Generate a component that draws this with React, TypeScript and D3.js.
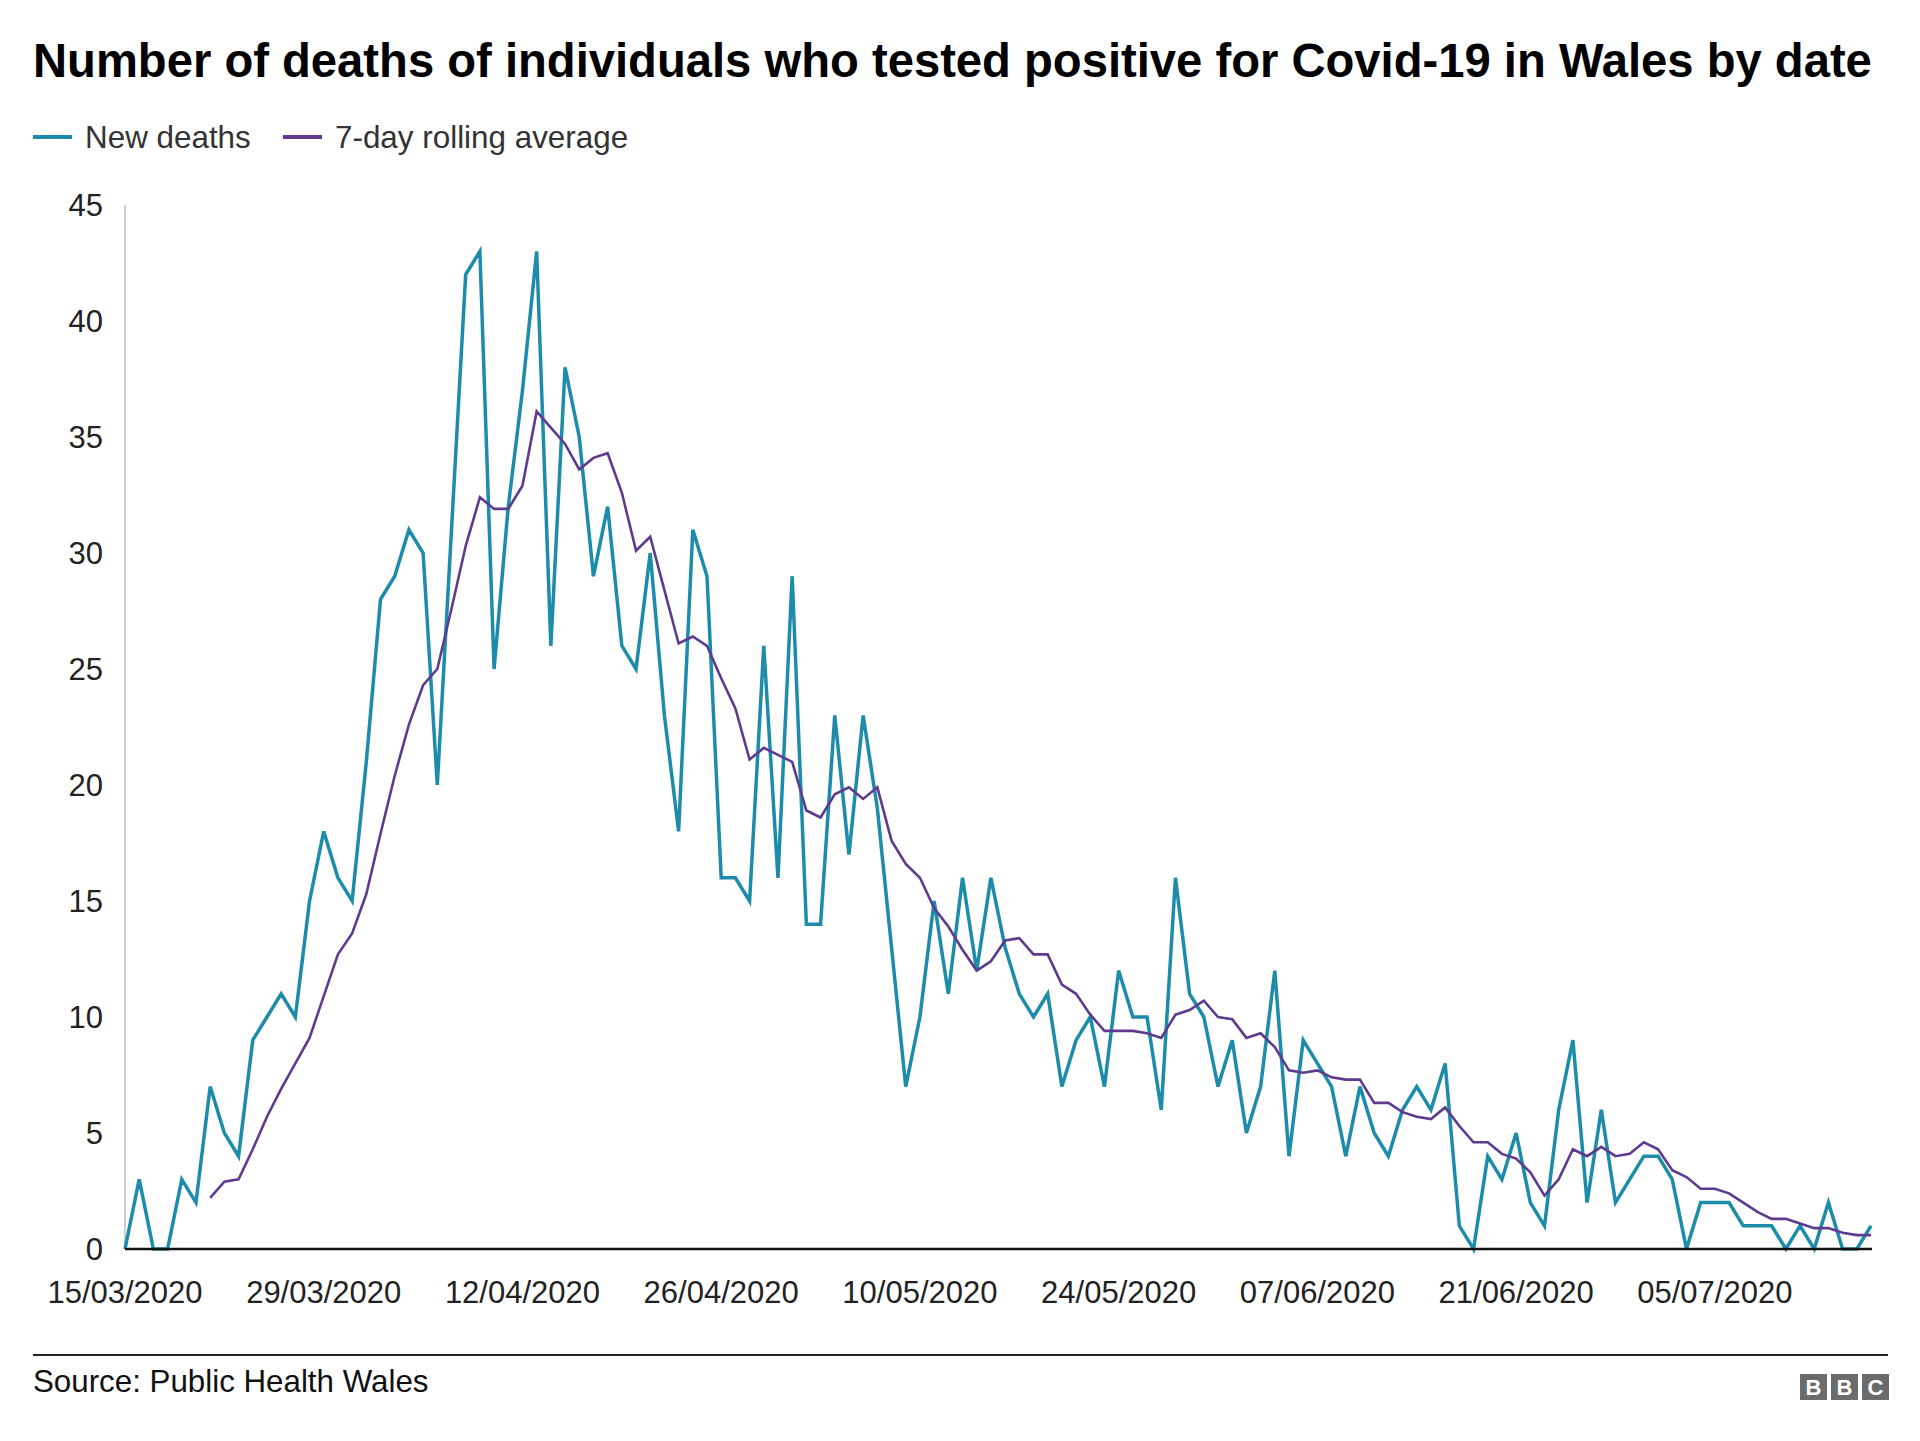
import * as d3 from 'd3';

const WIDTH = 1920;
const HEIGHT = 1441;
const MARGIN = { top: 205, right: 49, bottom: 192, left: 125 };

const FONT = '"Liberation Sans", Arial, Helvetica, sans-serif';
const TEAL = '#1d8cab';
const PURPLE = '#5e3b8f';

const TITLE = 'Number of deaths of individuals who tested positive for Covid-19 in Wales by date';
const SOURCE = 'Source: Public Health Wales';

// first day of data, one value per day after it
const startDay = '15/03/2020';

const newDeaths = [
  0, 3, 0, 0, 3, 2, 7, 5, 4, 9,
  10, 11, 10, 15, 18, 16, 15, 21, 28, 29,
  31, 30, 20, 31, 42, 43, 25, 32, 37, 43,
  26, 38, 35, 29, 32, 26, 25, 30, 23, 18,
  31, 29, 16, 16, 15, 26, 16, 29, 14, 14,
  23, 17, 23, 19, 13, 7, 10, 15, 11, 16,
  12, 16, 13, 11, 10, 11, 7, 9, 10, 7,
  12, 10, 10, 6, 16, 11, 10, 7, 9, 5,
  7, 12, 4, 9, 8, 7, 4, 7, 5, 4,
  6, 7, 6, 8, 1, 0, 4, 3, 5, 2,
  1, 6, 9, 2, 6, 2, 3, 4, 4, 3,
  0, 2, 2, 2, 1, 1, 1, 0, 1, 0,
  2, 0, 0, 1,
];

// 7-day rolling average, starts on the 7th day (21/03/2020)
const rollingStartOffset = 6;
const rollingAverage = [
  2.2, 2.9, 3.0, 4.3, 5.7, 6.9, 8.0, 9.1, 10.9, 12.7,
  13.6, 15.3, 17.9, 20.4, 22.6, 24.3, 25.0, 27.6, 30.3, 32.4,
  31.9, 31.9, 32.9, 36.1, 35.4, 34.7, 33.6, 34.1, 34.3, 32.6,
  30.1, 30.7, 28.4, 26.1, 26.4, 26.0, 24.6, 23.3, 21.1, 21.6,
  21.3, 21.0, 18.9, 18.6, 19.6, 19.9, 19.4, 19.9, 17.6, 16.6,
  16.0, 14.7, 13.9, 12.9, 12.0, 12.4, 13.3, 13.4, 12.7, 12.7,
  11.4, 11.0, 10.1, 9.4, 9.4, 9.4, 9.3, 9.1, 10.1, 10.3,
  10.7, 10.0, 9.9, 9.1, 9.3, 8.7, 7.7, 7.6, 7.7, 7.4,
  7.3, 7.3, 6.3, 6.3, 5.9, 5.7, 5.6, 6.1, 5.3, 4.6,
  4.6, 4.1, 3.9, 3.3, 2.3, 3.0, 4.3, 4.0, 4.4, 4.0,
  4.1, 4.6, 4.3, 3.4, 3.1, 2.6, 2.6, 2.4, 2.0, 1.6,
  1.3, 1.3, 1.1, 0.9, 0.9, 0.7, 0.6, 0.6,
];

const xTickLabels = [
  '15/03/2020', '29/03/2020', '12/04/2020', '26/04/2020', '10/05/2020',
  '24/05/2020', '07/06/2020', '21/06/2020', '05/07/2020',
];
const yTicks = [0, 5, 10, 15, 20, 25, 30, 35, 40, 45];

const legendItems = [
  { label: 'New deaths', color: TEAL },
  { label: '7-day rolling average', color: PURPLE },
];

type Point = { date: Date; value: number };

const parseDay = d3.utcParse('%d/%m/%Y');
const start = parseDay(startDay) as Date;
const addDays = (i: number) => d3.utcDay.offset(start, i);

const deathPoints: Point[] = newDeaths.map((v, i) => ({ date: addDays(i), value: v }));
const avgPoints: Point[] = rollingAverage.map((v, i) => ({
  date: addDays(i + rollingStartOffset),
  value: v,
}));

export default function App() {
  const x = d3
    .scaleUtc()
    .domain([start, addDays(newDeaths.length - 1)])
    .range([MARGIN.left, WIDTH - MARGIN.right]);
  const y = d3
    .scaleLinear()
    .domain([0, 45])
    .range([HEIGHT - MARGIN.bottom, MARGIN.top]);

  const line = d3
    .line<Point>()
    .x((d) => x(d.date))
    .y((d) => y(d.value));

  const y0 = y(0);

  return (
    <svg
      width={WIDTH}
      height={HEIGHT}
      style={{ position: 'absolute', left: 0, top: 0, background: '#fff' }}
      fontFamily={FONT}
    >
      <rect width={WIDTH} height={HEIGHT} fill='#fff' />

      {/* title */}
      <text x={33} y={77} fontSize={47.2} fontWeight='bold' fill='#000'>
        {TITLE}
      </text>

      {/* legend */}
      <g>
        {legendItems.map((item, i) => {
          const lx = i === 0 ? 33 : 283;
          return (
            <g key={item.label} transform={`translate(${lx},137)`}>
              <line x1={0} x2={39} y1={0} y2={0} stroke={item.color} strokeWidth={4} />
              <text x={52} y={0} dy='0.35em' fontSize={31.4} fill='#333'>
                {item.label}
              </text>
            </g>
          );
        })}
      </g>

      {/* y axis */}
      <line
        x1={MARGIN.left}
        x2={MARGIN.left}
        y1={y(45)}
        y2={y0}
        stroke='#d0d0d0'
        strokeWidth={2}
      />
      {yTicks.map((t) => (
        <text
          key={t}
          x={103}
          y={y(t)}
          dy='0.35em'
          textAnchor='end'
          fontSize={31}
          fill='#222'
        >
          {t}
        </text>
      ))}

      {/* x axis labels */}
      {xTickLabels.map((l) => (
        <text
          key={l}
          x={x(parseDay(l) as Date)}
          y={1303}
          textAnchor='middle'
          fontSize={31}
          fill='#222'
        >
          {l}
        </text>
      ))}

      {/* series */}
      <path
        d={line(deathPoints) ?? ''}
        fill='none'
        stroke={TEAL}
        strokeWidth={3.5}
      />
      <path
        d={line(avgPoints) ?? ''}
        fill='none'
        stroke={PURPLE}
        strokeWidth={2.6}
      />

      {/* baseline drawn over the lines */}
      <line
        x1={MARGIN.left}
        x2={1872}
        y1={y0}
        y2={y0}
        stroke='#111'
        strokeWidth={2.6}
      />

      {/* footer */}
      <line x1={33} x2={1888} y1={1355} y2={1355} stroke='#222' strokeWidth={2.2} />
      <text x={33} y={1392} fontSize={31.3} fill='#111'>
        {SOURCE}
      </text>
      <g>
        {['B', 'B', 'C'].map((c, i) => (
          <g key={i} transform={`translate(${1800 + i * 31},1374)`}>
            <rect width={27} height={26} fill='#6b6b6b' />
            <text
              x={13.5}
              y={13}
              dy='0.36em'
              textAnchor='middle'
              fontSize={22}
              fontWeight='bold'
              fill='#fff'
            >
              {c}
            </text>
          </g>
        ))}
      </g>
    </svg>
  );
}
